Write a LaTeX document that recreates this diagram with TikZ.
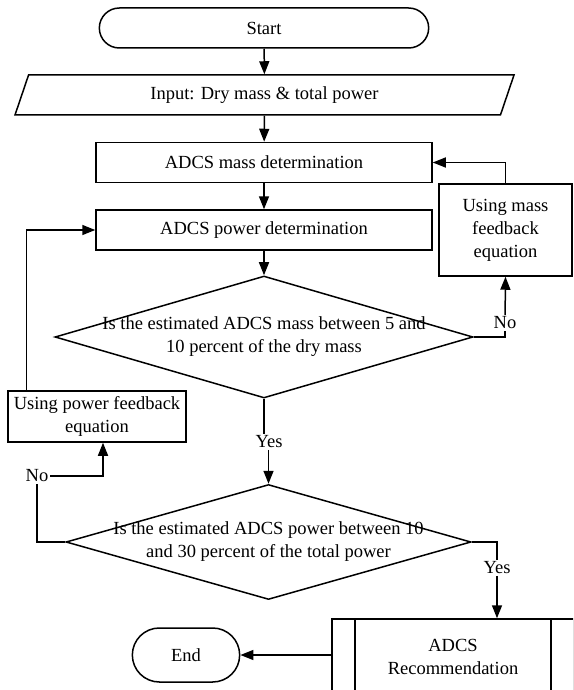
\documentclass[tikz,border=0pt]{standalone}
\usepackage{fontspec}
\setmainfont{Liberation Serif}
\usepackage{tikz}
\usetikzlibrary{shapes.geometric,shapes.misc,arrows.meta}

\tikzset{
    term/.style={rounded rectangle,draw},
    io/.style={trapezium,trapezium left angle=60,trapezium right angle=120,trapezium stretches body,draw,minimum width=499pt,minimum height=40pt},
    proc/.style={rectangle,draw,minimum width=336pt,minimum height=40pt},
    fbbox/.style={rectangle,draw,align=center},
    decision/.style={diamond,draw,inner sep=0pt},
    subproc/.style={rectangle,draw,align=center,path picture={
        \draw ([xshift=23pt]path picture bounding box.north west) -- ([xshift=23pt]path picture bounding box.south west);
        \draw ([xshift=-23pt]path picture bounding box.north east) -- ([xshift=-23pt]path picture bounding box.south east);}},
    lbl/.style={inner sep=1pt},
    arr/.style={-{Triangle[length=13pt,width=10pt]}}
}

\begin{document}
\begin{tikzpicture}[x=1pt,y=-1pt,line width=1.5pt,font=\fontsize{18.5}{23}\selectfont]
        \useasboundingbox (0,0) rectangle (573,690);
        \clip (0,0) rectangle (573,690);

        \node[term,minimum width=336pt,minimum height=40pt] (start) at (264,28) {Start};
        \node[io] (input) at (264.5,95) {Input: Dry mass \& total power};
        \node[proc] (mass) at (264,162.5) {ADCS mass determination};
        \node[proc] (power) at (264,230) {ADCS power determination};
        \node[decision,minimum width=418pt,minimum height=122pt,
            label={[align=center]center:Is the estimated ADCS mass between 5 and\\10 percent of the dry mass}] (d1) at (264,337) {};
        \node[fbbox,minimum width=133pt,minimum height=92pt] (mfb) at (505.5,230) {Using mass\\feedback\\equation};
        \node[fbbox,minimum width=178pt,minimum height=51pt] (pfb) at (97,416.5) {Using power feedback\\equation};
        \node[decision,minimum width=405pt,minimum height=115pt,
            label={[align=center]center:Is the estimated ADCS power between 10\\and 30 percent of the total power}] (d2) at (268.5,542) {};
        \node[subproc,minimum width=242pt,minimum height=76pt] (rec) at (453,657) {ADCS\\Recommendation};
        \node[term,minimum width=114pt,minimum height=54pt] (end) at (186,655) {End};

        \node[lbl] (no1) at (505,323) {No};
        \node[lbl] (yes1) at (269,442) {Yes};
        \node[lbl] (no2) at (37,476) {No};
        \node[lbl] (yes2) at (497,568) {Yes};

        \foreach \a/\b in {start/input,input/mass,mass/power,power/d1}
            \draw[arr] (\a) -- (\b);

        \draw (d1.east) -| (no1);
        \draw[arr] (no1) -- (mfb.south);
        \draw[arr] (mfb.north) |- (mass.east);

        \draw (d1.south) -- (d1.south |- yes1.north);
        \draw[arr] (yes1.south -| d2.north) -- (d2.north);

        \draw (d2.west) -| (no2);
        \draw[arr] (no2) -| ([xshift=6pt]pfb.south);
        \draw[arr] ([xshift=19pt]pfb.north west) |- (power.west);

        \draw (d2.east) -| (yes2);
        \draw[arr] (yes2) -- (yes2 |- rec.north);
        \draw[arr] (rec.west |- end.east) -- (end.east);
\end{tikzpicture}
\end{document}
